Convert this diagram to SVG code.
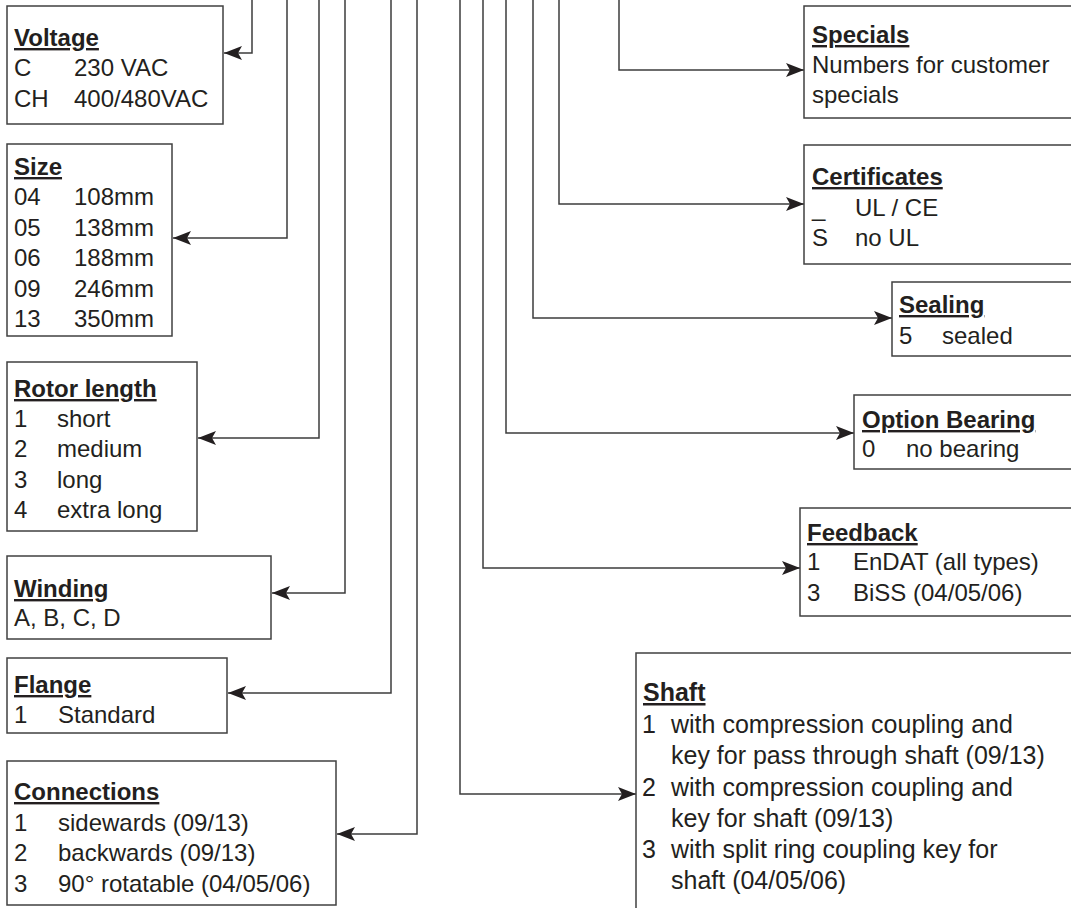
<svg xmlns="http://www.w3.org/2000/svg" width="1071" height="908" viewBox="0 0 1071 908">
<style>
.box{fill:#fff;stroke:#404040;stroke-width:1.5}
.c{fill:none;stroke:#3c3c3c;stroke-width:1.5}
text{font-family:"Liberation Sans",Arial,Helvetica,sans-serif;font-size:24px;fill:#231f20}
.h{font-weight:bold;text-decoration:underline}
.big{font-size:25px}
</style>
<defs>
<marker id="arr" viewBox="0 0 18 14" refX="18" refY="7" markerWidth="18" markerHeight="14" markerUnits="userSpaceOnUse" orient="auto">
<path d="M0,0 L18,7 L0,14 L4,7 Z" fill="#231f20"/>
</marker>
</defs>
<rect width="1071" height="908" fill="#fff"/>
<g id="connectors">
<path class="c" d="M252,0 V53 H224" marker-end="url(#arr)"/>
<path class="c" d="M287,0 V238 H173" marker-end="url(#arr)"/>
<path class="c" d="M319,0 V438 H198" marker-end="url(#arr)"/>
<path class="c" d="M345,0 V593 H272" marker-end="url(#arr)"/>
<path class="c" d="M391,0 V693 H228" marker-end="url(#arr)"/>
<path class="c" d="M417,0 V834 H337" marker-end="url(#arr)"/>
<path class="c" d="M619,0 V70 H804" marker-end="url(#arr)"/>
<path class="c" d="M559,0 V204 H804" marker-end="url(#arr)"/>
<path class="c" d="M533,0 V318 H892" marker-end="url(#arr)"/>
<path class="c" d="M506,0 V433 H854" marker-end="url(#arr)"/>
<path class="c" d="M483,0 V568 H800" marker-end="url(#arr)"/>
<path class="c" d="M460,0 V794 H636" marker-end="url(#arr)"/>
</g>
<g id="voltage">
<rect class="box" x="7" y="6" width="216" height="118"/>
<text class="h" x="14" y="46">Voltage</text>
<text x="14" y="76">C</text><text x="74" y="76">230 VAC</text>
<text x="14" y="107">CH</text><text x="74" y="107">400/480VAC</text>
</g>
<g id="size">
<rect class="box" x="7" y="144" width="165" height="192"/>
<text class="h" x="14" y="175">Size</text>
<text x="14" y="205">04</text><text x="74" y="205">108mm</text>
<text x="14" y="236">05</text><text x="74" y="236">138mm</text>
<text x="14" y="266">06</text><text x="74" y="266">188mm</text>
<text x="14" y="297">09</text><text x="74" y="297">246mm</text>
<text x="14" y="327">13</text><text x="74" y="327">350mm</text>
</g>
<g id="rotor">
<rect class="box" x="7" y="362" width="190" height="169"/>
<text class="h" x="14" y="397">Rotor length</text>
<text x="14" y="427">1</text><text x="57" y="427">short</text>
<text x="14" y="457">2</text><text x="57" y="457">medium</text>
<text x="14" y="488">3</text><text x="57" y="488">long</text>
<text x="14" y="518">4</text><text x="57" y="518">extra long</text>
</g>
<g id="winding">
<rect class="box" x="7" y="556" width="264" height="83"/>
<text class="h" x="14" y="597">Winding</text>
<text x="14" y="626">A, B, C, D</text>
</g>
<g id="flange">
<rect class="box" x="7" y="658" width="220" height="75"/>
<text class="h" x="14" y="693">Flange</text>
<text x="14" y="723">1</text><text x="58" y="723">Standard</text>
</g>
<g id="connections">
<rect class="box" x="7" y="761" width="329" height="144"/>
<text class="h" x="14" y="800">Connections</text>
<text x="14" y="831">1</text><text x="58" y="831">sidewards (09/13)</text>
<text x="14" y="861">2</text><text x="58" y="861">backwards (09/13)</text>
<text x="14" y="892">3</text><text x="58" y="892">90° rotatable (04/05/06)</text>
</g>
<g id="specials">
<rect class="box" x="804" y="6" width="280" height="112"/>
<text class="h" x="812" y="43">Specials</text>
<text x="812" y="73">Numbers for customer</text>
<text x="812" y="103">specials</text>
</g>
<g id="certificates">
<rect class="box" x="804" y="145" width="280" height="119"/>
<text class="h" x="812" y="185">Certificates</text>
<text x="812" y="216">_</text><text x="855" y="216">UL / CE</text>
<text x="812" y="246">S</text><text x="855" y="246">no UL</text>
</g>
<g id="sealing">
<rect class="box" x="892" y="282" width="200" height="74"/>
<text class="h" x="899" y="313">Sealing</text>
<text x="899" y="344">5</text><text x="942" y="344">sealed</text>
</g>
<g id="bearing">
<rect class="box" x="854" y="395" width="240" height="74"/>
<text class="h" x="862" y="428">Option Bearing</text>
<text x="862" y="457">0</text><text x="906" y="457">no bearing</text>
</g>
<g id="feedback">
<rect class="box" x="800" y="508" width="290" height="108"/>
<text class="h" x="807" y="541">Feedback</text>
<text x="807" y="570">1</text><text x="853" y="570">EnDAT (all types)</text>
<text x="807" y="601">3</text><text x="853" y="601">BiSS (04/05/06)</text>
</g>
<g id="shaft">
<rect class="box" x="636" y="653" width="450" height="300"/>
<text class="h big" x="643" y="701">Shaft</text>
<text class="big" x="642" y="733">1</text><text class="big" x="671" y="733">with compression coupling and</text>
<text class="big" x="671" y="764">key for pass through shaft (09/13)</text>
<text class="big" x="642" y="796">2</text><text class="big" x="671" y="796">with compression coupling and</text>
<text class="big" x="671" y="827">key for shaft (09/13)</text>
<text class="big" x="642" y="858">3</text><text class="big" x="671" y="858">with split ring coupling key for</text>
<text class="big" x="671" y="889">shaft (04/05/06)</text>
</g>
</svg>
